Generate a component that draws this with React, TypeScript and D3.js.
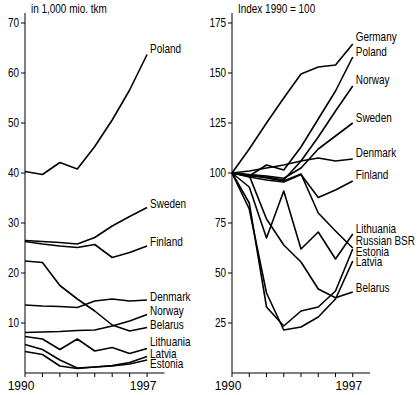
import React from "react";
import * as d3 from "d3";

const years = [1990, 1991, 1992, 1993, 1994, 1995, 1996, 1997];

// left panel: in 1,000 mio. tkm
const leftNames = ["Poland", "Sweden", "Finland", "Denmark", "Norway", "Belarus", "Lithuania", "Latvia", "Estonia"];
const leftValues = [
  [40.3, 39.7, 42.1, 40.8, 45.3, 50.6, 56.6, 63.7],
  [26.5, 26.3, 26.1, 25.8, 27.1, 29.4, 31.3, 33.1],
  [26.3, 25.8, 25.4, 25.1, 25.7, 23.1, 24.1, 25.4],
  [13.6, 13.4, 13.3, 13.1, 14.4, 14.8, 14.4, 14.6],
  [8.1, 8.2, 8.3, 8.5, 8.6, 9.4, 10.4, 11.7],
  [22.4, 22.1, 17.5, 14.8, 12.4, 9.6, 8.4, 9.1],
  [7.3, 6.8, 4.7, 6.8, 4.4, 5.1, 3.9, 4.9],
  [5.7, 4.7, 2.6, 1.0, 1.2, 1.5, 2.1, 3.3],
  [4.3, 3.7, 1.4, 0.9, 1.2, 1.4, 1.8, 2.6],
];
const leftTicks = [10, 20, 30, 40, 50, 60, 70];

// right panel: index 1990 = 100
const rightNames = ["Germany", "Poland", "Norway", "Sweden", "Denmark", "Finland", "Lithuania", "Russian BSR", "Estonia", "Latvia", "Belarus"];
const rightValues = [
  [100, 112, 125, 137.5, 149.5, 153, 154, 164.5],
  [100, 98.5, 104, 101.5, 113, 127, 141, 158],
  [100, 101, 102.5, 104, 106, 118, 131, 143.5],
  [100, 99.2, 98.5, 97.4, 102.5, 112, 118.5, 125],
  [100, 98.5, 98, 96.5, 106, 107.5, 106, 107],
  [100, 98, 96.5, 95.5, 99.3, 87.7, 91.5, 96],
  [100, 93, 67.5, 91, 62, 70.5, 57, 69.5],
  [100, 99, 97.5, 96, 99.5, 80, 71, 62.5],
  [100, 85, 33, 23.5, 31, 33, 41, 62],
  [100, 82, 40, 21.5, 23, 28, 37, 56],
  [100, 98.7, 77, 64, 55.5, 42, 37.6, 40.5],
];
const rightTicks = [25, 50, 75, 100, 125, 150, 175];

// where the series names sit (in data units)
const leftLabelAt = [64.8, 33.8, 26.2, 15.3, 12.5, 9.7, 6.3, 3.9, 1.8];
const rightLabelAt = [167.9, 160.7, 146.5, 127.4, 109.9, 99, 72, 66, 60.5, 55.5, 42.4];

const font = "'Liberation Sans', Arial, sans-serif";

// condensed text, like the original's narrow face
const Txt = ({ x, y, anchor = "start", children, sx = 0.83 }) => (
  <text
    transform={`translate(${x},${y}) scale(${sx},1)`}
    dy="0.35em"
    textAnchor={anchor}
    fontFamily={font}
    fontSize={12}
  >
    {children}
  </text>
);

const Panel = ({ x0, x1, yMax, names, values, ticks, labelAt, title }) => {
  const top = 13;
  const bottom = 373;
  const x = d3.scaleLinear().domain([1990, 1998]).range([x0, x1]);
  const y = d3.scaleLinear().domain([0, yMax]).range([bottom, top]);
  const line = d3
    .line()
    .x((d, i) => x(years[i]))
    .y((d) => y(d));
  const lastX = x(1997);

  return (
    <g>
      <Txt x={x0 + 6} y={9}>{title}</Txt>
      <line x1={x0} x2={x0} y1={top} y2={bottom} stroke="#000" />
      <line x1={x0} x2={x1} y1={bottom} y2={bottom} stroke="#000" />
      {ticks.map((t) => (
        <g key={t}>
          <line x1={x0 - 4} x2={x0} y1={y(t)} y2={y(t)} stroke="#000" />
          <Txt x={x0 - 6} y={y(t)} anchor="end">{t}</Txt>
        </g>
      ))}
      {years.map((yr) => (
        <line key={yr} x1={x(yr)} x2={x(yr)} y1={bottom} y2={bottom + 4} stroke="#000" />
      ))}
      {[1990, 1997].map((yr) => (
        <Txt key={yr} x={x(yr) - 4} y={386} anchor="middle" sx={1}>{yr}</Txt>
      ))}
      {values.map((v, i) => (
        <path key={names[i]} d={line(v)} fill="none" stroke="#000" strokeWidth={1.6} strokeLinejoin="round" />
      ))}
      {names.map((n, i) => (
        <Txt key={n} x={lastX + 3} y={y(labelAt[i])}>{n}</Txt>
      ))}
    </g>
  );
};

export default function App() {
  return (
    <svg
      width={419}
      height={395}
      style={{ position: "absolute", left: 0, top: 0, display: "block", background: "#fff" }}
    >
      <Panel
        x0={25}
        x1={164.5}
        yMax={72}
        names={leftNames}
        values={leftValues}
        ticks={leftTicks}
        labelAt={leftLabelAt}
        title="in 1,000 mio. tkm"
      />
      <Panel
        x0={232}
        x1={370}
        yMax={180}
        names={rightNames}
        values={rightValues}
        ticks={rightTicks}
        labelAt={rightLabelAt}
        title="Index 1990 = 100"
      />
    </svg>
  );
}
